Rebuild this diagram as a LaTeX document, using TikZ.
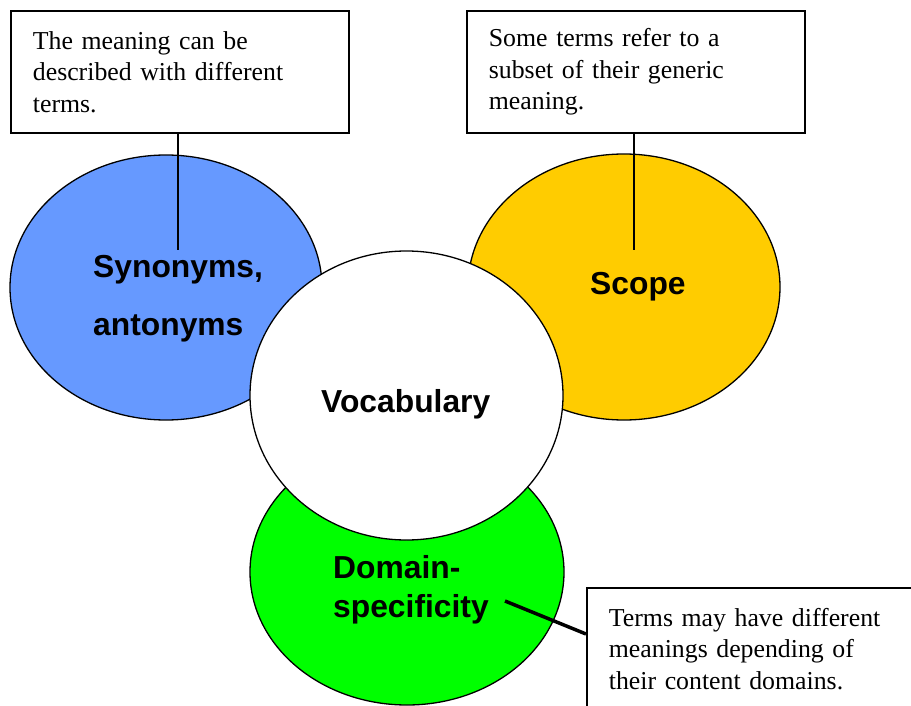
\documentclass[tikz,border=0pt]{standalone}
\usepackage{fontspec}
\setmainfont{Liberation Serif}
\newfontfamily\arialfont{Liberation Sans}
\usetikzlibrary{shapes.geometric}
\definecolor{synblue}{HTML}{6699FF}
\definecolor{scopeyellow}{HTML}{FFCC00}
\definecolor{domgreen}{HTML}{00FF00}
\tikzset{
  bubble/.style={ellipse, draw=black, line width=1.3pt, inner sep=0pt},
  notebox/.style={rectangle, draw=black, line width=1.8pt, fill=white, anchor=north west,
    minimum width=338pt, minimum height=122pt, text width=294pt, align=left,
    inner xsep=22pt, inner ysep=0pt, font=\fontsize{25.8}{31.6}\selectfont},
  bubbletext/.style={anchor=base west, inner sep=0pt, font=\arialfont\bfseries\fontsize{31.8}{37}\selectfont},
  leader/.style={draw=black, line width=1.8pt},
  thickleader/.style={draw=black, line width=3.5pt}
}
\begin{document}
\begin{tikzpicture}[x=1pt,y=-1pt]
\useasboundingbox (0,0) rectangle (911,706);
\clip (0,0) rectangle (911,706);
\fill[white] (0,0) rectangle (911,706);
% bubbles
\node[bubble, fill=scopeyellow, minimum width=312pt, minimum height=266pt] (scope) at (624,287) {};
\node[bubble, fill=synblue, minimum width=312pt, minimum height=265pt] (syn) at (166,287.5) {};
\node[bubble, fill=domgreen, minimum width=314pt, minimum height=266pt] (dom) at (407,572) {};
\node[bubble, fill=white, minimum width=313pt, minimum height=289pt] (voc) at (406.5,395.5) {};
% bubble labels
\node[bubbletext] (tsyn1) at (93,277) {Synonyms,};
\node[bubbletext] (tsyn2) at (93,335) {antonyms};
\node[bubbletext] (tscope) at (590,294) {Scope};
\node[bubbletext] (tvoc) at (321,412) {Vocabulary};
\node[bubbletext] (tdom1) at (333,578) {Domain-};
\node[bubbletext] (tdom2) at (333,617) {specificity};
% note boxes
\node[notebox] (b1) at (10,10) {The meaning can be\\described with different\\terms.};
\node[notebox] (b2) at (466,10) {Some terms refer to a\\subset of their generic\\meaning.};
\node[notebox] (b3) at (586,587) {Terms may have different\\meanings depending of\\their content domains.};
% leaders
\coordinate (c1) at (178,250);
\coordinate (c2) at (634,250);
\coordinate (c3) at (505,601);
\draw[leader] (b1.south -| c1) -- (c1);
\draw[leader] (b2.south -| c2) -- (c2);
\draw[thickleader] (c3) -- ([yshift=-47pt]b3.north west);
\end{tikzpicture}
\end{document}
